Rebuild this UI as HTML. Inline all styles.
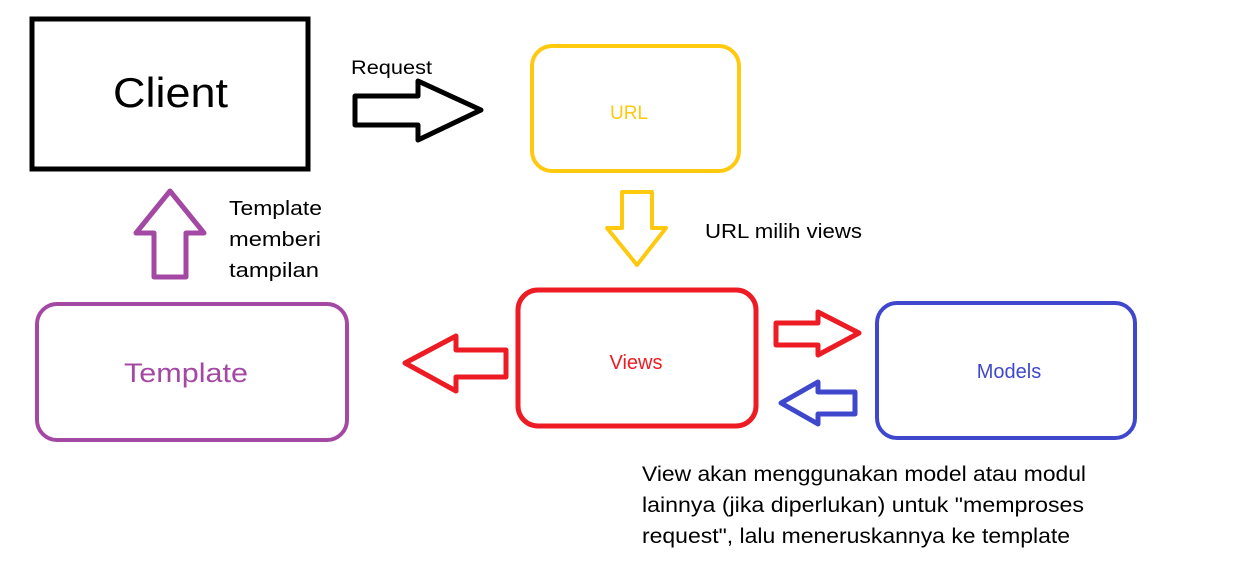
<!DOCTYPE html>
<html><head><meta charset="utf-8"><style>
html,body{margin:0;padding:0;background:#fff;width:1255px;height:581px;overflow:hidden}
svg{display:block}
text{font-family:"Liberation Sans",sans-serif}
</style></head><body>
<svg width="1255" height="581" viewBox="0 0 1255 581">
<rect x="32" y="19" width="276" height="150" fill="none" stroke="#000" stroke-width="5"/>
<text x="113" y="107" font-size="42" textLength="115" lengthAdjust="spacingAndGlyphs" fill="#000">Client</text>
<text x="351" y="74" font-size="19" textLength="81" lengthAdjust="spacingAndGlyphs" fill="#000">Request</text>
<polygon points="355,96 418,96 418,81 481,110 418,140 418,125 355,125" fill="none" stroke="#000" stroke-width="5" stroke-linejoin="round"/>
<rect x="532" y="46" width="207" height="125" rx="20" fill="none" stroke="#ffc90e" stroke-width="4"/>
<text x="629" y="119" font-size="19" text-anchor="middle" fill="#ffc90e">URL</text>
<polygon points="622,192 652,192 652,228 666,228 637,265 607,228 622,228" fill="none" stroke="#ffc90e" stroke-width="4" stroke-linejoin="round"/>
<text x="705" y="238" font-size="20" textLength="157" lengthAdjust="spacingAndGlyphs" fill="#000">URL milih views</text>
<rect x="518" y="290" width="238" height="136" rx="20" fill="none" stroke="#ed1c24" stroke-width="5"/>
<text x="636" y="369" font-size="20" text-anchor="middle" fill="#ed1c24">Views</text>
<polygon points="506,350 456,350 456,336 405,363 456,391 456,377 506,377" fill="none" stroke="#ed1c24" stroke-width="5" stroke-linejoin="round"/>
<polygon points="776,323 818,323 818,312 859,333 818,355 818,345 776,345" fill="none" stroke="#ed1c24" stroke-width="5" stroke-linejoin="round"/>
<polygon points="855,392 818,392 818,382 781,403 818,424 818,414 855,414" fill="none" stroke="#3f48cc" stroke-width="5" stroke-linejoin="round"/>
<rect x="877" y="303" width="258" height="135" rx="20" fill="none" stroke="#3f48cc" stroke-width="4"/>
<text x="1009" y="378" font-size="20" text-anchor="middle" fill="#3f48cc">Models</text>
<rect x="37" y="304" width="310" height="136" rx="20" fill="none" stroke="#a349a4" stroke-width="4"/>
<text x="124" y="382" font-size="27" textLength="124" lengthAdjust="spacingAndGlyphs" fill="#a349a4">Template</text>
<polygon points="154,277 186,277 186,233 204,233 170,191 136,233 154,233" fill="none" stroke="#a349a4" stroke-width="5" stroke-linejoin="round"/>
<text x="229" y="215" font-size="20" textLength="93" lengthAdjust="spacingAndGlyphs" fill="#000">Template</text>
<text x="229" y="246" font-size="20" textLength="92" lengthAdjust="spacingAndGlyphs" fill="#000">memberi</text>
<text x="229" y="277" font-size="20" textLength="90" lengthAdjust="spacingAndGlyphs" fill="#000">tampilan</text>
<text x="642" y="481" font-size="21" textLength="444" lengthAdjust="spacingAndGlyphs" fill="#000">View akan menggunakan model atau modul</text>
<text x="642" y="512" font-size="21" textLength="442" lengthAdjust="spacingAndGlyphs" fill="#000">lainnya (jika diperlukan) untuk "memproses</text>
<text x="642" y="543" font-size="21" textLength="428" lengthAdjust="spacingAndGlyphs" fill="#000">request", lalu meneruskannya ke template</text>
</svg>
</body></html>
